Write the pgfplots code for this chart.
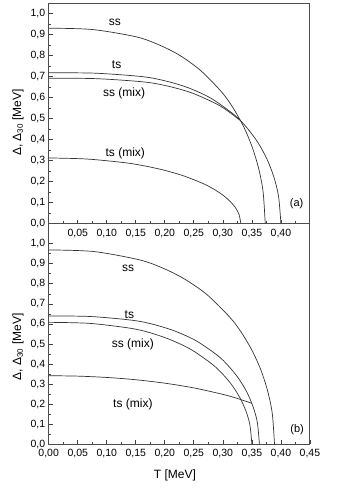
\documentclass[border=0pt]{standalone}
\usepackage{pgfplots}
\pgfplotsset{compat=1.18}
\usepackage{fontspec}
\setmainfont{Liberation Sans}

\pgfplotsset{
  panel/.style={
    scale only axis, width=261.3pt, height=220.7pt,
    xmin=0, xmax=0.45, ymin=0,
    axis line style={black!70, line width=0.9pt},
    tick align=inside, xtick pos=bottom, ytick pos=left,
    major tick length=4pt, minor tick length=2.5pt,
    every tick/.style={black!75, line width=0.7pt},
    ytick={0,0.1,0.2,0.3,0.4,0.5,0.6,0.7,0.8,0.9,1.0},
    minor ytick={0.05,0.15,0.25,0.35,0.45,0.55,0.65,0.75,0.85,0.95},
    minor xtick={0.025,0.075,0.125,0.175,0.225,0.275,0.325,0.375,0.425},
    tick label style={font=\fontsize{10.5}{12}\selectfont},
    /pgf/number format/assume math mode=true,
    yticklabel style={/pgf/number format/.cd, fixed, fixed zerofill, precision=1, use comma},
    xticklabel style={yshift=-1.5pt, /pgf/number format/.cd, fixed, fixed zerofill, precision=2, use comma},
    ylabel={Δ, Δ\textsubscript{30} [MeV]},
    label style={font=\fontsize{12}{14}\selectfont},
  },
  curve/.style={black!80, line width=0.7pt, smooth, tension=0.5, no marks},
}
\tikzset{lab/.style={font=\fontsize{12}{14}\selectfont}}

\begin{document}
\begin{tikzpicture}
% (a)
\begin{axis}[panel, name=top, ymax=1.05,
  xtick={0.05,0.10,0.15,0.20,0.25,0.30,0.35,0.40},
  ylabel style={at={(axis description cs:-0.1175,0.458)}, anchor=center}]
% ss
\addplot[curve] coordinates {(0,0.930) (0.0746,0.924) (0.1492,0.890) (0.1865,0.855) (0.2238,0.804) (0.2611,0.730) (0.2984,0.625) (0.3171,0.553) (0.3357,0.462) (0.3506,0.364) (0.3618,0.261) (0.3693,0.152) (0.373,0)};
% ts
\addplot[curve] coordinates {(0,0.718) (0.08,0.716) (0.16,0.700) (0.20,0.680) (0.24,0.647) (0.28,0.596) (0.32,0.517) (0.34,0.461) (0.36,0.388) (0.376,0.307) (0.388,0.221) (0.396,0.129) (0.40,0)};
% ss (mix)
\addplot[curve] coordinates {(0,0.692) (0.0817,0.690) (0.1635,0.6745) (0.2044,0.655) (0.2452,0.6235) (0.2861,0.574) (0.3065,0.540) (0.329,0.493)};
% ts (mix)
\addplot[curve] coordinates {(0,0.3126) (0.0662,0.3075) (0.1324,0.2896) (0.1655,0.2746) (0.1986,0.2546) (0.2317,0.2280) (0.2648,0.1922) (0.2814,0.1691) (0.2979,0.1402) (0.3111,0.1099) (0.3211,0.0783) (0.3277,0.0455) (0.331,0)};
\node[lab] at (axis cs:0.114,0.956) {ss};
\node[lab] at (axis cs:0.117,0.755) {ts};
\node[lab] at (axis cs:0.130,0.620) {ss (mix)};
\node[lab] at (axis cs:0.132,0.335) {ts (mix)};
\node[font=\fontsize{11}{13}\selectfont] at (axis cs:0.427,0.093) {(a)};
\end{axis}
% (b)
\begin{axis}[panel, name=bot, ymax=1.1,
  at={(top.south west)}, anchor=north west,
  xtick={0,0.05,0.10,0.15,0.20,0.25,0.30,0.35,0.40,0.45},
  xlabel={T [MeV]},
  xlabel style={at={(axis description cs:0.483,-0.139)}, anchor=center},
  ylabel style={at={(axis description cs:-0.1175,0.441)}, anchor=center}]
% ss
\addplot[curve] coordinates {(0,0.969) (0.0778,0.961) (0.1556,0.920) (0.1945,0.881) (0.2334,0.825) (0.2723,0.747) (0.3112,0.636) (0.3307,0.563) (0.3501,0.469) (0.3657,0.369) (0.3773,0.264) (0.3851,0.154) (0.389,0)};
% ts
\addplot[curve] coordinates {(0,0.640) (0.0726,0.637) (0.1452,0.618) (0.1815,0.597) (0.2178,0.564) (0.2541,0.516) (0.2904,0.444) (0.3086,0.394) (0.3267,0.330) (0.3412,0.261) (0.3521,0.187) (0.3594,0.109) (0.363,0)};
% ss (mix)
\addplot[curve] coordinates {(0,0.608) (0.07,0.603) (0.14,0.579) (0.175,0.556) (0.21,0.521) (0.245,0.473) (0.28,0.403) (0.2975,0.357) (0.315,0.298) (0.329,0.234) (0.3395,0.168) (0.3465,0.098) (0.35,0)};
% ts (mix)
\addplot[curve] coordinates {(0,0.342) (0.05,0.3399) (0.10,0.3333) (0.15,0.3219) (0.20,0.3048) (0.25,0.2812) (0.30,0.2490) (0.325,0.2286) (0.35,0.2042)};
\node[lab] at (axis cs:0.137,0.875) {ss};
\node[lab] at (axis cs:0.139,0.645) {ts};
\node[lab] at (axis cs:0.145,0.500) {ss (mix)};
\node[lab] at (axis cs:0.145,0.200) {ts (mix)};
\node[font=\fontsize{11}{13}\selectfont] at (axis cs:0.428,0.071) {(b)};
\end{axis}
\path (top.north west) ++(-48.7pt,3pt) coordinate (bbtl);
\path (bot.south east) ++(28pt,-50.7pt) coordinate (bbbr);
\path (bbtl) rectangle (bbbr);
\end{tikzpicture}
\end{document}
